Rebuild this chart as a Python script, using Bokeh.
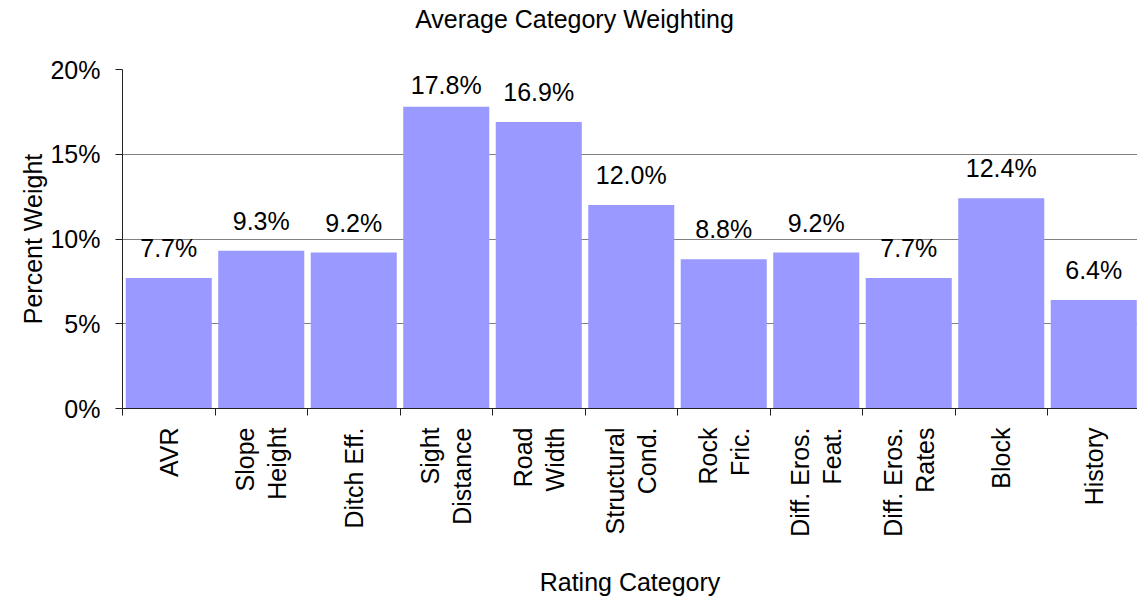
import math
from bokeh.plotting import figure
from bokeh.models import Range1d, FixedTicker, ColumnDataSource, LinearAxis
from bokeh.core.properties import value
from bokeh.embed import file_html
from bokeh.resources import INLINE

categories = ["AVR", "Slope\nHeight", "Ditch Eff.", "Sight\nDistance", "Road\nWidth",
              "Structural\nCond.", "Rock\nFric.", "Diff. Eros.\nFeat.", "Diff. Eros.\nRates",
              "Block", "History"]
weights = [7.7, 9.3, 9.2, 17.8, 16.9, 12.0, 8.8, 9.2, 7.7, 12.4, 6.4]
y_ticks = [0, 5, 10, 15, 20]
y_tick_labels = ["0%", "5%", "10%", "15%", "20%"]
title_text = "Average Category Weighting"

FONT = "Liberation Sans"
FS = "25px"

n = len(categories)
centers = [i + 0.5 for i in range(n)]
bounds = [i for i in range(n + 1)]
labels = ["%.1f%%" % w for w in weights]

W, H = 1137, 598
left, top, frame_h = 122, 69, 340
frame_w = W - left
cat_px = 92.5
x_end = frame_w / cat_px
y_max = 20
px_per_unit = frame_h / y_max
offsets = [-(min(20, (y_max - w) * px_per_unit - 26) + 10) for w in weights]

src = ColumnDataSource(dict(x=centers, top=weights, label=labels, off=offsets))

p = figure(width=W, height=H, output_backend="svg", toolbar_location=None,
           x_range=Range1d(0, x_end), y_range=Range1d(0, y_max),
           min_border_left=left, min_border_right=0, min_border_top=top,
           min_border_bottom=H - top - frame_h)

p.vbar(x="x", top="top", width=0.93, source=src, fill_color="#9999FF", line_color=None)
p.text(x="x", y="top", text="label", source=src, y_offset="off",
       text_align="center", text_baseline="alphabetic",
       text_font=value(FONT), text_font_size=value(FS), text_color="black")

p.outline_line_color = None
p.background_fill_color = "white"
p.border_fill_color = "white"

# y axis
ya = p.left[0]
ya.ticker = FixedTicker(ticks=y_ticks, minor_ticks=[])
ya.major_label_overrides = {t: l for t, l in zip(y_ticks, y_tick_labels)}
ya.major_tick_out = 7
ya.major_tick_in = 0
ya.minor_tick_line_color = None
ya.axis_line_color = "#222222"
ya.major_tick_line_color = "#222222"
ya.major_label_text_font = FONT
ya.major_label_text_font_size = FS
ya.major_label_text_color = "black"
ya.major_label_standoff = 15
ya.axis_label = "Percent Weight"
ya.axis_label_text_font = FONT
ya.axis_label_text_font_size = FS
ya.axis_label_text_font_style = "normal"
ya.axis_label_text_color = "black"
ya.axis_label_standoff = 0

# x axis (bottom)
xa = p.below[0]
xa.ticker = FixedTicker(ticks=centers, minor_ticks=bounds)
xa.major_label_overrides = {c: l for c, l in zip(centers, categories)}
xa.major_tick_line_color = None
xa.minor_tick_out = 7
xa.minor_tick_in = 0
xa.minor_tick_line_color = "#222222"
xa.axis_line_color = "#222222"
xa.major_label_orientation = math.pi / 2
xa.major_label_text_font = FONT
xa.major_label_text_font_size = FS
xa.major_label_text_line_height = 1.15
xa.major_label_text_color = "black"
xa.major_label_standoff = 12
xa.axis_label = "Rating Category"
xa.axis_label_text_font = FONT
xa.axis_label_text_font_size = FS
xa.axis_label_text_font_style = "normal"
xa.axis_label_text_color = "black"
xa.axis_label_standoff = 28

# chart title: centred over the whole chart area (not the plot frame)
title_pos = (574 - left) / cat_px
ta = LinearAxis(ticker=FixedTicker(ticks=[title_pos], minor_ticks=[]),
                major_label_overrides={title_pos: title_text},
                axis_line_color=None, major_tick_line_color=None,
                minor_tick_line_color=None, major_tick_out=0, major_tick_in=0,
                major_label_standoff=37,
                major_label_text_font=FONT, major_label_text_font_size=FS,
                major_label_text_color="black")
p.add_layout(ta, "above")

p.xgrid.grid_line_color = None
p.ygrid.ticker = FixedTicker(ticks=y_ticks)
p.ygrid.grid_line_color = "#808080"
p.ygrid.grid_line_width = 1.2

open("out.html", "w").write(file_html(p, INLINE))
